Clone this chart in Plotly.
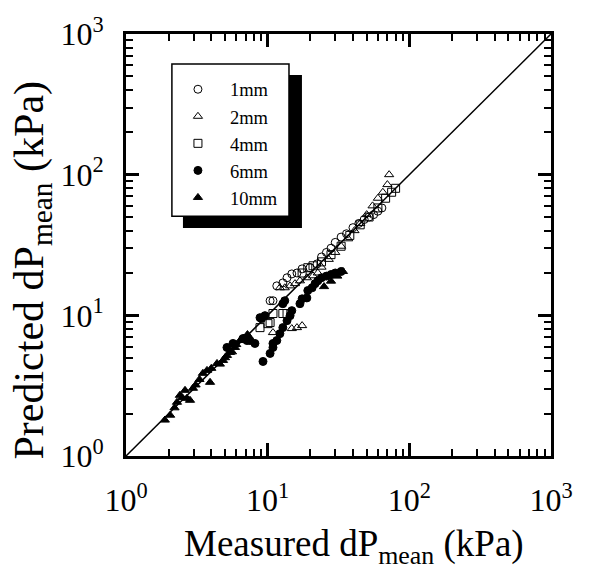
import plotly.graph_objects as go

# ---- data (measured, predicted) in kPa ----
mm1_x = [10.4, 10.9, 11.6, 12.8, 13.7, 14.8, 16.1, 17.5, 19.9, 22.3, 24, 26, 28, 30, 33, 36, 40, 44, 48, 52, 56, 60, 64]
mm1_y = [12.7, 12.7, 16.2, 17.0, 18.5, 19.7, 20.0, 21.4, 21.8, 23.2, 26, 28, 30, 33, 36, 38, 42, 45, 48, 50, 52, 55, 58]

mm2_x = [10.9, 14.8, 16.1, 17.5, 12.2, 13.2, 14.4, 15.6, 16.9, 18.9, 20.9, 22.6, 24, 27, 30, 33, 37, 41, 45, 50, 55, 60, 65, 70, 72]
mm2_y = [7.54, 8.05, 8.18, 8.45, 15.7, 15.7, 16.2, 16.8, 17.6, 18.5, 19.1, 20.0, 22, 25, 28, 31, 35, 40, 45, 52, 60, 68, 75, 85, 100]

mm4_x = [8.83, 10.05, 10.4, 10.9, 12.8, 13.7, 17.5, 19.2, 20.9, 24, 28, 33, 38, 45, 52, 60, 68, 75, 80]
mm4_y = [8.18, 8.73, 8.88, 10.3, 10.3, 10.3, 20.0, 21.8, 22.5, 24, 27, 31, 37, 44, 50, 58, 68, 75, 80]

mm6_x = [5.16, 5.69, 6.70, 7.14, 7.50, 8.13, 8.83, 9.05, 9.57, 9.27, 10.4, 10.9, 10.9, 11.6, 12.2, 12.8, 13.7, 14.4, 14.8,
         12.8, 13.2, 16.9, 17.5, 18.9, 19.2, 20.6, 21.6, 22.6, 24, 26, 28, 30, 33]
mm6_y = [5.91, 6.31, 6.84, 6.62, 6.62, 6.31, 9.63, 9.48, 9.95, 4.70, 5.36, 5.91, 6.31, 6.62, 7.41, 8.18, 9.17, 9.95, 10.8,
         12.1, 12.7, 12.1, 13.1, 13.3, 15.0, 15.7, 16.8, 17.6, 18.5, 19, 19.5, 20, 20.5]

mm10_x = [1.88, 2.05, 2.2, 2.29, 2.40, 2.5, 2.61, 2.69, 2.83, 2.97, 3.1, 3.3, 3.49, 3.73, 3.92, 4.0, 4.39, 4.6, 4.84, 5.0,
          5.16, 5.42, 5.6, 5.88, 6.0, 6.38, 6.8, 7.2, 25, 28, 31, 34]
mm10_y = [1.80, 1.95, 2.2, 2.41, 2.70, 2.6, 2.93, 2.57, 2.49, 3.03, 3.2, 3.5, 3.87, 4.06, 3.34, 4.2, 4.55, 4.5, 4.78, 5.0,
          5.19, 5.45, 5.5, 5.91, 6.2, 6.62, 6.9, 7.3, 16, 17.5, 19, 20.5]

series = [
    ("1mm", mm1_x, mm1_y, "circle-open"),
    ("2mm", mm2_x, mm2_y, "triangle-up-open"),
    ("4mm", mm4_x, mm4_y, "square-open"),
    ("6mm", mm6_x, mm6_y, "circle"),
    ("10mm", mm10_x, mm10_y, "triangle-up"),
]

diag = [1, 1000]
decades = [1, 10, 100, 1000]
tick_text = ["10<sup>0</sup>", "10<sup>1</sup>", "10<sup>2</sup>", "10<sup>3</sup>"]

x_title = "Measured dP<sub>mean</sub> (kPa)"
y_title = "Predicted dP<sub>mean</sub> (kPa)"

FONT = "Liberation Serif, Times New Roman, serif"

fig = go.Figure()
fig.add_trace(go.Scatter(x=diag, y=diag, mode="lines", line=dict(color="black", width=1.5),
                         showlegend=False, hoverinfo="skip"))
for name, xs, ys, sym in series:
    fig.add_trace(go.Scatter(
        x=xs, y=ys, mode="markers", name=name,
        marker=dict(symbol=sym, size=8, color="black", line=dict(color="black", width=1)),
    ))

axis_common = dict(
    type="log", range=[0, 3], tickmode="array", tickvals=decades, ticktext=tick_text,
    ticks="inside", ticklen=13, tickwidth=2.5, tickcolor="black",
    showline=True, linewidth=3, linecolor="black", mirror="ticks",
    showgrid=False, zeroline=False,
    tickfont=dict(family=FONT, size=32, color="black"),
    minor=dict(ticks="inside", ticklen=7, tickwidth=2, tickcolor="black",
               dtick="D1", showgrid=False),
)
fig.update_xaxes(**axis_common, ticklabelstandoff=14)
fig.update_yaxes(**axis_common, ticklabelstandoff=13)

# axis titles
fig.add_annotation(text=x_title, xref="paper", yref="paper", x=0.536, y=-0.215,
                   xanchor="center", yanchor="middle", showarrow=False,
                   font=dict(family=FONT, size=37, color="black"))
fig.add_annotation(text=y_title, xref="paper", yref="paper", x=-0.222, y=0.441,
                   xanchor="center", yanchor="middle", showarrow=False, textangle=-90,
                   font=dict(family=FONT, size=42, color="black"))

# legend box + shadow
fig.add_shape(type="rect", xref="paper", yref="paper", x0=0.134, x1=0.414, y0=0.540, y1=0.903,
              fillcolor="black", line=dict(width=0), layer="above")
fig.add_shape(type="rect", xref="paper", yref="paper", x0=0.108, x1=0.3835, y0=0.568, y1=0.929,
              fillcolor="white", line=dict(color="black", width=1.5), layer="above")

fig.update_layout(
    width=590, height=576,
    margin=dict(l=126, r=39, t=32, b=120),
    paper_bgcolor="white", plot_bgcolor="white",
    font=dict(family=FONT, color="black"),
    legend=dict(x=0.094, y=0.913, xanchor="left", yanchor="top", itemwidth=54,
                bgcolor="rgba(0,0,0,0)", borderwidth=0,
                font=dict(family=FONT, size=18.5, color="black")),
)

fig.write_html("out.html")
